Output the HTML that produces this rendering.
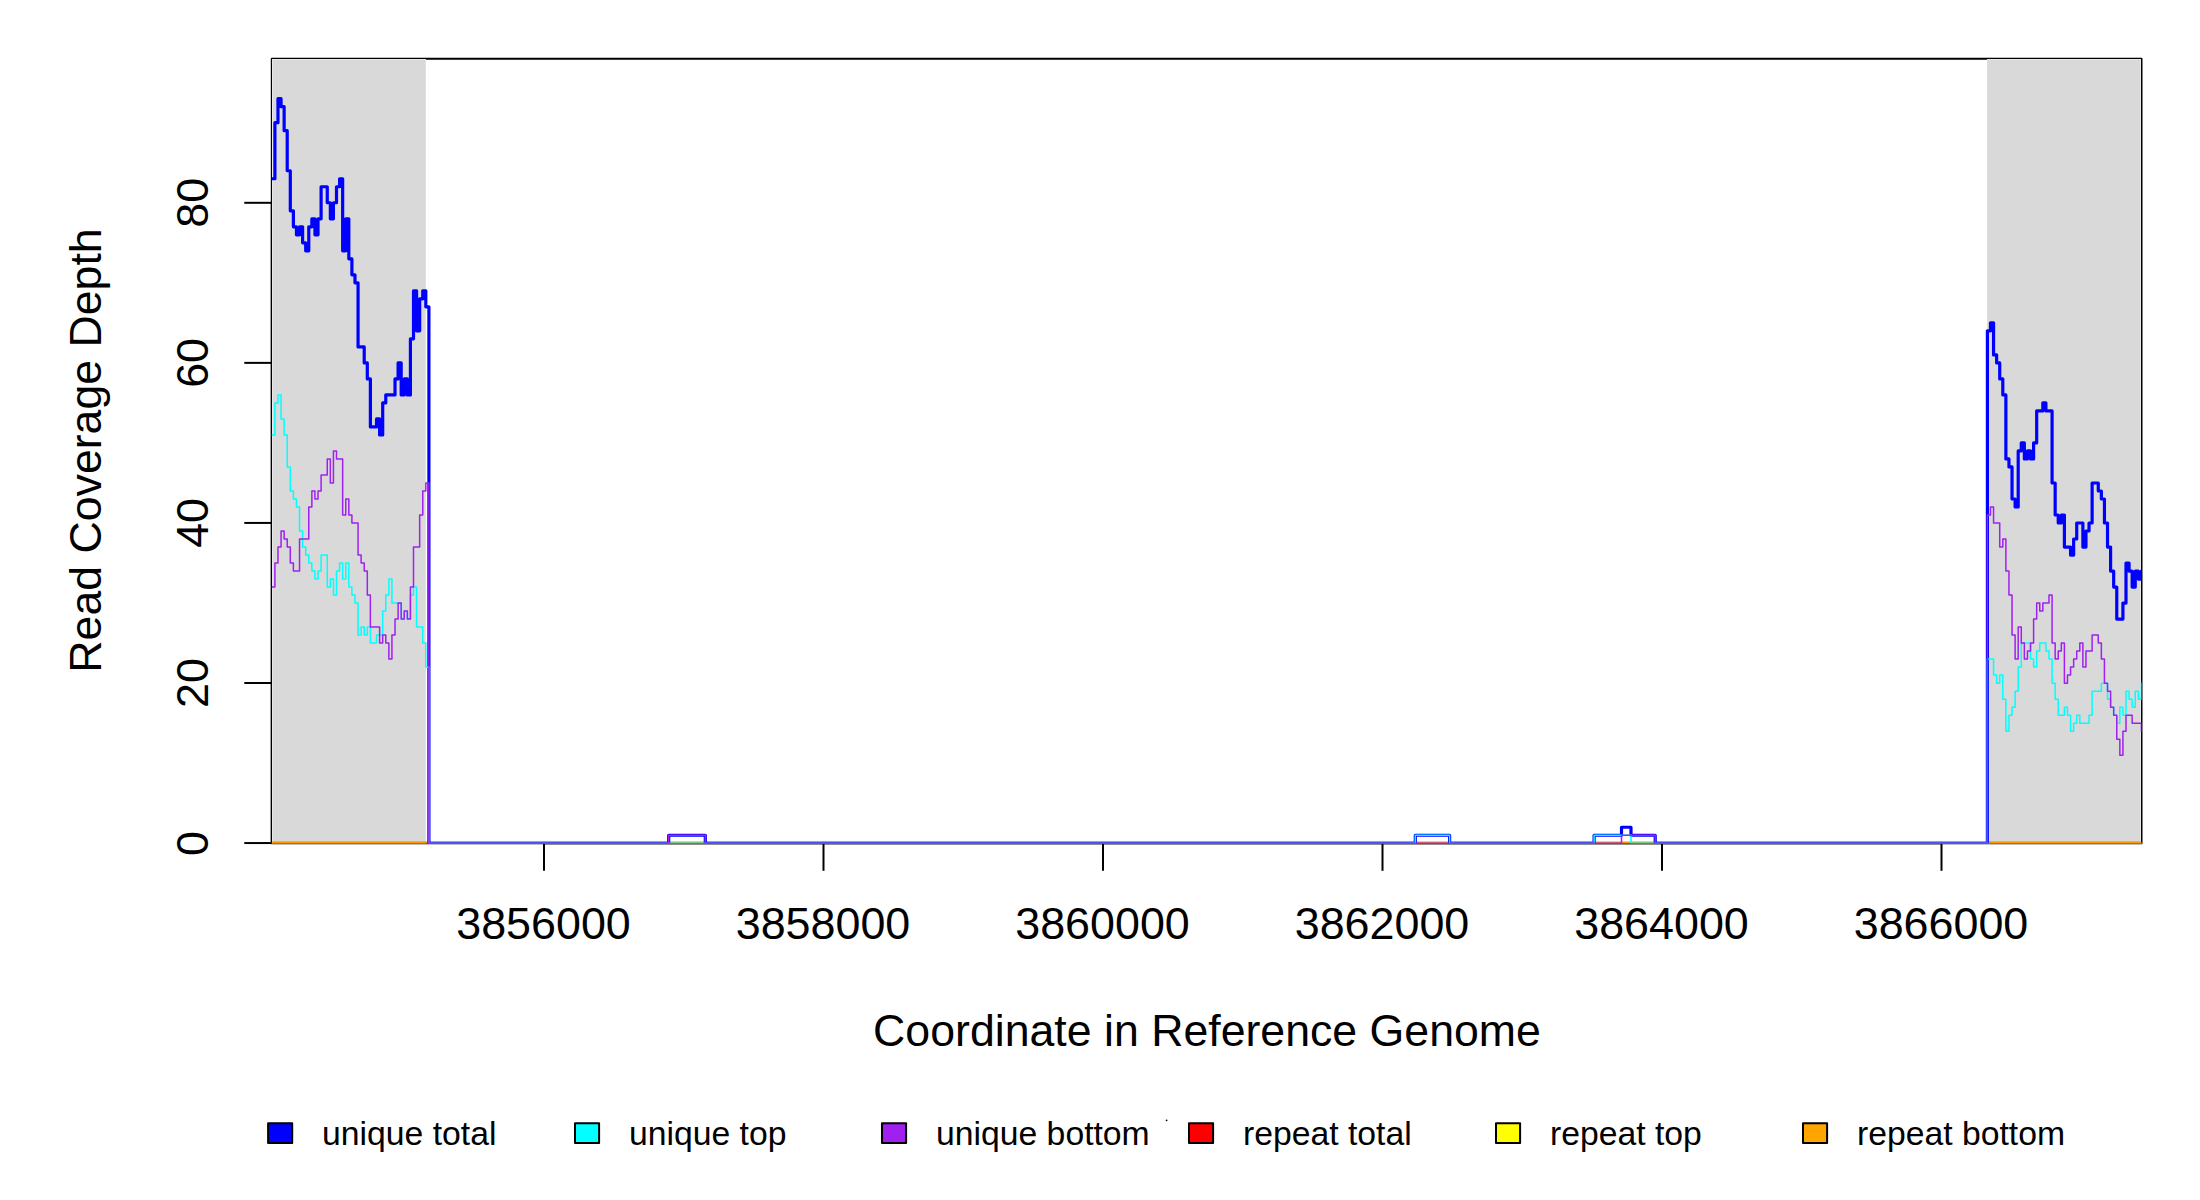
<!DOCTYPE html>
<html lang="en"><head><meta charset="utf-8"><title>Read Coverage Depth</title>
<style>html,body{margin:0;padding:0;background:#fff}body{width:2200px;height:1200px;overflow:hidden}svg{display:block}</style>
</head><body>
<svg width="2200" height="1200" viewBox="0 0 2200 1200">
<defs><clipPath id="pc"><rect x="271.80" y="58.72" width="1869.70" height="784.58"/></clipPath></defs>
<rect x="0" y="0" width="2200" height="1200" fill="#fff"/>
<rect x="271.80" y="58.72" width="1869.70" height="784.58" fill="none" stroke="#000" stroke-width="2" stroke-linejoin="round"/>
<g stroke="#000" stroke-width="2" fill="none">
<path d="M544.0 843.30H1941.5"/>
<path d="M544.0 843.30V870.8"/>
<path d="M823.5 843.30V870.8"/>
<path d="M1103.0 843.30V870.8"/>
<path d="M1382.5 843.30V870.8"/>
<path d="M1662.0 843.30V870.8"/>
<path d="M1941.5 843.30V870.8"/>
<path d="M271.80 843.05V202.81"/>
<path d="M271.80 843.05H244.3"/>
<path d="M271.80 682.99H244.3"/>
<path d="M271.80 522.93H244.3"/>
<path d="M271.80 362.87H244.3"/>
<path d="M271.80 202.81H244.3"/>
</g>
<rect x="272" y="59" width="153.8" height="784.30" fill="#d9d9d9"/>
<rect x="1987.1" y="59" width="153.90" height="784.30" fill="#d9d9d9"/>
<g fill="#e8e8e8">
<rect x="272" y="59" width="1" height="784.30"/>
<rect x="272" y="59" width="153.8" height="1"/>
<rect x="1987.1" y="59" width="153.90" height="1"/>
<rect x="2140" y="59" width="1" height="784.30"/>
</g>
<g clip-path="url(#pc)" fill="none" stroke-linejoin="round" stroke-linecap="round">
<path d="M271.00 843.25H2143.00" stroke="#ff0000" stroke-width="3.20"/>
<path d="M271.00 843.25H2143.00" stroke="#ffff00" stroke-width="1.50"/>
<path d="M271.00 843.25H2143.00" stroke="#ffa500" stroke-width="1.50"/>
<path d="M271.00 178.75H274.90V122.71H277.98V98.69H281.06V106.70H284.14V130.72H287.22V170.75H290.30V210.78H293.38V226.79H296.46V234.79H299.54V226.79H302.62V242.80H305.70V250.81H308.78V226.79H311.86V218.78H314.94V234.79H318.02V218.78H321.10V186.76H324.18H327.26V202.77H330.34V218.78H333.42V202.77H336.50V186.76H339.58V178.75H342.66V250.81H345.74V218.78H348.82V258.81H351.90V274.82H354.98V282.83H358.06V346.88H361.14H364.22V362.89H367.30V378.90H370.38V426.94H373.46H376.54V418.93H379.62V434.94H382.70V402.92H385.78V394.91H388.86H391.94H395.02V378.90H398.10V362.89H401.18V394.91H404.26V378.90H407.34V394.91H410.42V338.87H413.50V290.84H416.58V330.87H419.66V298.84H422.74V290.84H425.82V306.85H428.90V843.25H668.70V835.24H705.30V843.25H1415.30V835.24H1449.60V843.25H1594.10V835.24H1621.50V827.24H1631.00V835.24H1655.20V843.25H1987.40V330.87H1990.48V322.86H1993.56V354.88H1996.64V362.89H1999.72V378.90H2002.80V394.91H2005.88V458.96H2008.96V466.97H2012.04V498.99H2015.12V507.00H2018.20V450.96H2021.28V442.95H2024.36V458.96H2027.44V450.96H2030.52V458.96H2033.60V442.95H2036.68V410.93H2039.76H2042.84V402.92H2045.92V410.93H2049.00H2052.08V482.98H2055.16V515.00H2058.24V523.01H2061.32V515.00H2064.40V547.03H2067.48H2070.56V555.03H2073.64V539.02H2076.72V523.01H2079.80H2082.88V547.03H2085.96V531.02H2089.04V523.01H2092.12V482.98H2095.20H2098.28V490.99H2101.36V498.99H2104.44V523.01H2107.52V547.03H2110.60V571.05H2113.68V587.06H2116.76V619.08H2119.84H2122.92V603.07H2126.00V563.04H2129.08V571.05H2132.16V587.06H2135.24V571.05H2138.32V579.05H2141.40V571.05H2143.00" stroke="#0000ff" stroke-width="3.20"/>
<path d="M271.00 434.94H274.90V402.92H277.98V394.91H281.06V418.93H284.14V434.94H287.22V466.97H290.30V490.99H293.38V498.99H296.46V507.00H299.54V531.02H302.62V547.03H305.70V555.03H308.78V563.04H311.86V571.05H314.94V579.05H318.02V571.05H321.10V555.03H324.18H327.26V587.06H330.34V579.05H333.42V595.06H336.50V571.05H339.58V563.04H342.66V579.05H345.74V563.04H348.82V587.06H351.90V595.06H354.98V603.07H358.06V635.09H361.14V627.09H364.22V635.09H367.30V627.09H370.38V643.10H373.46H376.54V635.09H379.62H382.70V611.08H385.78V595.06H388.86V579.05H391.94V603.07H395.02H398.10H401.18V619.08H404.26V611.08H407.34V619.08H410.42V595.06H413.50V587.06H416.58V627.09H419.66H422.74V643.10H425.82V667.12H428.90V843.25H1415.30V835.24H1449.60V843.25H1594.10V835.24H1631.00V843.25H1987.40V659.11H1990.48H1993.56V675.12H1996.64V683.13H1999.72V675.12H2002.80V699.14H2005.88V731.17H2008.96V715.15H2012.04V707.15H2015.12V691.14H2018.20V667.12H2021.28V643.10H2024.36H2027.44H2030.52V659.11H2033.60V667.12H2036.68V651.11H2039.76V643.10H2042.84H2045.92V651.11H2049.00V659.11H2052.08V683.13H2055.16V699.14H2058.24V715.15H2061.32H2064.40V707.15H2067.48V715.15H2070.56V731.17H2073.64V723.16H2076.72V715.15H2079.80V723.16H2082.88H2085.96H2089.04V715.15H2092.12V691.14H2095.20H2098.28H2101.36V683.13H2104.44H2107.52V699.14H2110.60V707.15H2113.68V715.15H2116.76V723.16H2119.84V707.15H2122.92V715.15H2126.00V691.14H2129.08V699.14H2132.16V707.15H2135.24V691.14H2138.32V699.14H2141.40V683.13H2143.00" stroke="#00ffff" stroke-width="1.50"/>
<path d="M271.00 587.06H274.90V563.04H277.98V547.03H281.06V531.02H284.14V539.02H287.22V547.03H290.30V563.04H293.38V571.05H296.46H299.54V539.02H302.62H305.70H308.78V507.00H311.86V490.99H314.94V498.99H318.02V490.99H321.10V474.97H324.18H327.26V458.96H330.34V482.98H333.42V450.96H336.50V458.96H339.58H342.66V515.00H345.74V498.99H348.82V515.00H351.90V523.01H354.98H358.06V555.03H361.14V563.04H364.22V571.05H367.30V595.06H370.38V627.09H373.46H376.54H379.62V643.10H382.70V635.09H385.78V643.10H388.86V659.11H391.94V635.09H395.02V619.08H398.10V603.07H401.18V619.08H404.26V611.08H407.34V619.08H410.42V587.06H413.50V547.03H416.58H419.66V515.00H422.74V490.99H425.82V482.98H428.90V843.25H668.70V835.24H705.30V843.25H1621.50V835.24H1655.20V843.25H1987.40V515.00H1990.48V507.00H1993.56V523.01H1996.64H1999.72V547.03H2002.80V539.02H2005.88V571.05H2008.96V595.06H2012.04V635.09H2015.12V659.11H2018.20V627.09H2021.28V643.10H2024.36V659.11H2027.44V651.11H2030.52V643.10H2033.60V619.08H2036.68V603.07H2039.76V611.08H2042.84V603.07H2045.92H2049.00V595.06H2052.08V643.10H2055.16V659.11H2058.24V651.11H2061.32V643.10H2064.40V683.13H2067.48V675.12H2070.56V667.12H2073.64V659.11H2076.72V651.11H2079.80V643.10H2082.88V667.12H2085.96V651.11H2089.04H2092.12V635.09H2095.20H2098.28V643.10H2101.36V659.11H2104.44V683.13H2107.52V691.14H2110.60V707.15H2113.68V715.15H2116.76V739.17H2119.84V755.18H2122.92V731.17H2126.00V715.15H2129.08H2132.16V723.16H2135.24H2138.32H2141.40V731.17H2143.00" stroke="#a020f0" stroke-width="1.50"/>
</g>
<g font-family="'Liberation Sans', sans-serif" fill="#000">
<text x="543.5" y="939" font-size="44.85" text-anchor="middle">3856000</text>
<text x="823.0" y="939" font-size="44.85" text-anchor="middle">3858000</text>
<text x="1102.5" y="939" font-size="44.85" text-anchor="middle">3860000</text>
<text x="1382.0" y="939" font-size="44.85" text-anchor="middle">3862000</text>
<text x="1661.5" y="939" font-size="44.85" text-anchor="middle">3864000</text>
<text x="1941.0" y="939" font-size="44.85" text-anchor="middle">3866000</text>
<text transform="translate(208 843.5) rotate(-90)" font-size="44.85" text-anchor="middle">0</text>
<text transform="translate(208 683.0) rotate(-90)" font-size="44.85" text-anchor="middle">20</text>
<text transform="translate(208 522.9) rotate(-90)" font-size="44.85" text-anchor="middle">40</text>
<text transform="translate(208 362.9) rotate(-90)" font-size="44.85" text-anchor="middle">60</text>
<text transform="translate(208 202.8) rotate(-90)" font-size="44.85" text-anchor="middle">80</text>
<text x="1207" y="1046.2" font-size="44.66" text-anchor="middle">Coordinate in Reference Genome</text>
<text transform="translate(101 450.5) rotate(-90)" font-size="44.66" text-anchor="middle">Read Coverage Depth</text>
<rect x="268.1" y="1123.25" width="24.1" height="19.8" fill="#0000ff" stroke="#000" stroke-width="2" stroke-linejoin="round"/>
<text x="322.1" y="1144.8" font-size="33.73">unique total</text>
<rect x="575.0" y="1123.25" width="24.1" height="19.8" fill="#00ffff" stroke="#000" stroke-width="2" stroke-linejoin="round"/>
<text x="629.0" y="1144.8" font-size="33.73">unique top</text>
<rect x="882.0" y="1123.25" width="24.1" height="19.8" fill="#a020f0" stroke="#000" stroke-width="2" stroke-linejoin="round"/>
<text x="936.0" y="1144.8" font-size="33.73">unique bottom</text>
<rect x="1189.0" y="1123.25" width="24.1" height="19.8" fill="#ff0000" stroke="#000" stroke-width="2" stroke-linejoin="round"/>
<text x="1243.0" y="1144.8" font-size="33.73">repeat total</text>
<rect x="1496.0" y="1123.25" width="24.1" height="19.8" fill="#ffff00" stroke="#000" stroke-width="2" stroke-linejoin="round"/>
<text x="1550.0" y="1144.8" font-size="33.73">repeat top</text>
<rect x="1803.0" y="1123.25" width="24.1" height="19.8" fill="#ffa500" stroke="#000" stroke-width="2" stroke-linejoin="round"/>
<text x="1857.0" y="1144.8" font-size="33.73">repeat bottom</text>
</g>
<circle cx="1166.6" cy="1120.3" r="0.9" fill="#000"/>
</svg>
</body></html>
